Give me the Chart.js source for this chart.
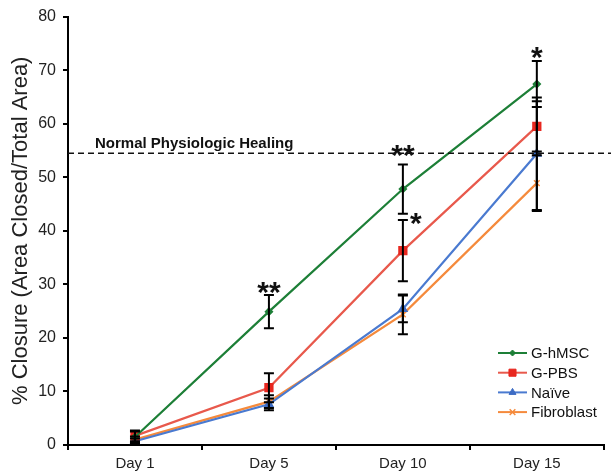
<!DOCTYPE html>
<html>
<head>
<meta charset="utf-8">
<script src="https://cdn.jsdelivr.net/npm/chart.js@4"></script>
<style>
  html, body { margin: 0; padding: 0; background: #fff; }
  #wrap { width: 611px; height: 476px; position: relative; }
</style>
</head>
<body>
<div id="wrap"><canvas id="closureChart"></canvas></div>
<script>
const days = ['Day 1', 'Day 5', 'Day 10', 'Day 15'];

const hmsc = [1.5, 24.9, 47.8, 67.4];
const hmscErr = [1.0, 3.1, 4.6, 4.3];
const pbs = [1.7, 10.7, 36.3, 59.5];
const pbsErr = [1.0, 2.7, 5.7, 4.7];
const naive = [0.7, 7.6, 25.4, 54.4];
const naiveErr = [0.5, 1.1, 2.5, 10.5];
const fibro = [1.0, 8.1, 24.4, 48.9];
const fibroErr = [0.6, 1.2, 3.7, 5.2];

const healingLevel = 54.5;
const healingText = 'Normal Physiologic Healing';

// significance marks: category index, level (y units), text
const sigIndex = [1, 2, 2, 3];
const sigLevel = [29.9, 55.4, 42.7, 73.7];
const sigText = ['**', '**', '*', '*'];

const yTicks = [0, 10, 20, 30, 40, 50, 60, 70, 80];

const errors = [hmscErr, pbsErr, naiveErr, fibroErr];
const FONT = '"Liberation Sans", Arial, sans-serif';

const errorBars = {
    id: 'errorBars',
    afterDatasetsDraw(chart) {
        const ctx = chart.ctx;
        const y = chart.scales.y;
        ctx.save();
        ctx.strokeStyle = '#000';
        ctx.lineWidth = 2;
        chart.data.datasets.forEach((ds, di) => {
            const meta = chart.getDatasetMeta(di);
            meta.data.forEach((pt, i) => {
                const top = y.getPixelForValue(ds.data[i] + errors[di][i]);
                const bot = y.getPixelForValue(ds.data[i] - errors[di][i]);
                ctx.beginPath();
                ctx.moveTo(pt.x, top); ctx.lineTo(pt.x, bot);
                ctx.moveTo(pt.x - 5, top); ctx.lineTo(pt.x + 5, top);
                ctx.moveTo(pt.x - 5, bot); ctx.lineTo(pt.x + 5, bot);
                ctx.stroke();
            });
        });
        ctx.restore();
    }
};

const extras = {
    id: 'extras',
    afterDraw(chart) {
        const ctx = chart.ctx;
        const {x, y} = chart.scales;
        const area = chart.chartArea;
        ctx.save();
        // reference line
        const ly = y.getPixelForValue(healingLevel);
        ctx.strokeStyle = '#111';
        ctx.lineWidth = 1.5;
        ctx.setLineDash([6, 4]);
        ctx.beginPath();
        ctx.moveTo(area.left, ly);
        ctx.lineTo(chart.width, ly);
        ctx.stroke();
        ctx.setLineDash([]);
        ctx.fillStyle = '#111';
        ctx.font = 'bold 15px ' + FONT;
        ctx.textAlign = 'left';
        ctx.textBaseline = 'alphabetic';
        ctx.fillText(healingText, 95, ly - 5);

        // asterisks
        ctx.font = 'bold 30px ' + FONT;
        ctx.textAlign = 'center';
        sigText.forEach((t, k) => {
            let px = x.getPixelForValue(sigIndex[k]);
            if (k === 2) px += 13;
            const py = y.getPixelForValue(sigLevel[k]);
            ctx.fillText(t, px, py + 17);
        });

        // legend
        const ds = chart.data.datasets;
        ctx.font = '15px ' + FONT;
        ctx.textAlign = 'left';
        ctx.textBaseline = 'middle';
        ds.forEach((d, i) => {
            const cy = 353 + i * 19.7;
            ctx.strokeStyle = d.borderColor;
            ctx.lineWidth = 2;
            ctx.beginPath();
            ctx.moveTo(498, cy); ctx.lineTo(527, cy);
            ctx.stroke();
            ctx.fillStyle = d.pointBackgroundColor;
            ctx.strokeStyle = d.pointBorderColor;
            ctx.lineWidth = d.pointBorderWidth || 1;
            Chart.helpers.drawPoint(ctx, {
                pointStyle: d.pointStyle,
                radius: d.pointRadius,
                rotation: 0,
                borderWidth: d.pointBorderWidth || 1
            }, 512.5, cy);
            ctx.fillStyle = '#111';
            ctx.fillText(d.label, 531, cy + 1);
        });
        ctx.restore();
    }
};

new Chart(document.getElementById('closureChart'), {
    type: 'line',
    data: {
        labels: days,
        datasets: [
            {
                label: 'G-hMSC', data: hmsc,
                borderColor: '#1d7f37', backgroundColor: '#1d7f37',
                pointBackgroundColor: '#1d7f37', pointBorderColor: '#1d7f37',
                pointStyle: 'rectRot', pointRadius: 3, borderWidth: 2.2
            },
            {
                label: 'G-PBS', data: pbs,
                borderColor: '#e8594c', backgroundColor: '#e8594c',
                pointBackgroundColor: '#e8271f', pointBorderColor: '#e8271f',
                pointStyle: 'rect', pointRadius: 5, borderWidth: 2.2
            },
            {
                label: 'Naïve', data: naive,
                borderColor: '#4a7ad0', backgroundColor: '#4a7ad0',
                pointBackgroundColor: '#3d6cc4', pointBorderColor: '#3d6cc4',
                pointStyle: 'triangle', pointRadius: 4, borderWidth: 2.2
            },
            {
                label: 'Fibroblast', data: fibro,
                borderColor: '#f58a3c', backgroundColor: '#f58a3c',
                pointBackgroundColor: '#f58a3c', pointBorderColor: '#f58a3c',
                pointStyle: 'crossRot', pointRadius: 4, pointBorderWidth: 1.5, borderWidth: 2.2
            }
        ]
    },
    options: {
        responsive: true,
        maintainAspectRatio: false,
        animation: false,
        layout: { padding: { top: 15, right: 0, left: 0, bottom: 0 } },
        plugins: {
            legend: { display: false },
            tooltip: { enabled: false }
        },
        scales: {
            x: {
                offset: true,
                afterFit(s) { s.height = 31; },
                grid: { offset: true, drawOnChartArea: false, drawTicks: true, tickLength: 5, color: '#000', lineWidth: 2 },
                border: { color: '#000', width: 2 },
                ticks: { color: '#222', padding: 5, font: { size: 15, family: FONT } }
            },
            y: {
                min: 0, max: 80,
                afterFit(s) { s.width = 68; },
                afterBuildTicks(s) { s.ticks = yTicks.map(v => ({ value: v })); },
                grid: { drawOnChartArea: false, drawTicks: true, tickLength: 5, color: '#000', lineWidth: 2 },
                border: { color: '#000', width: 2 },
                ticks: { color: '#222', padding: 7, font: { size: 16, family: FONT } },
                title: {
                    display: true,
                    text: '% Closure (Area Closed/Total Area)',
                    color: '#222',
                    padding: { top: 8, bottom: 0 },
                    font: { size: 22, family: FONT }
                }
            }
        }
    },
    plugins: [errorBars, extras]
});
</script>
</body>
</html>
